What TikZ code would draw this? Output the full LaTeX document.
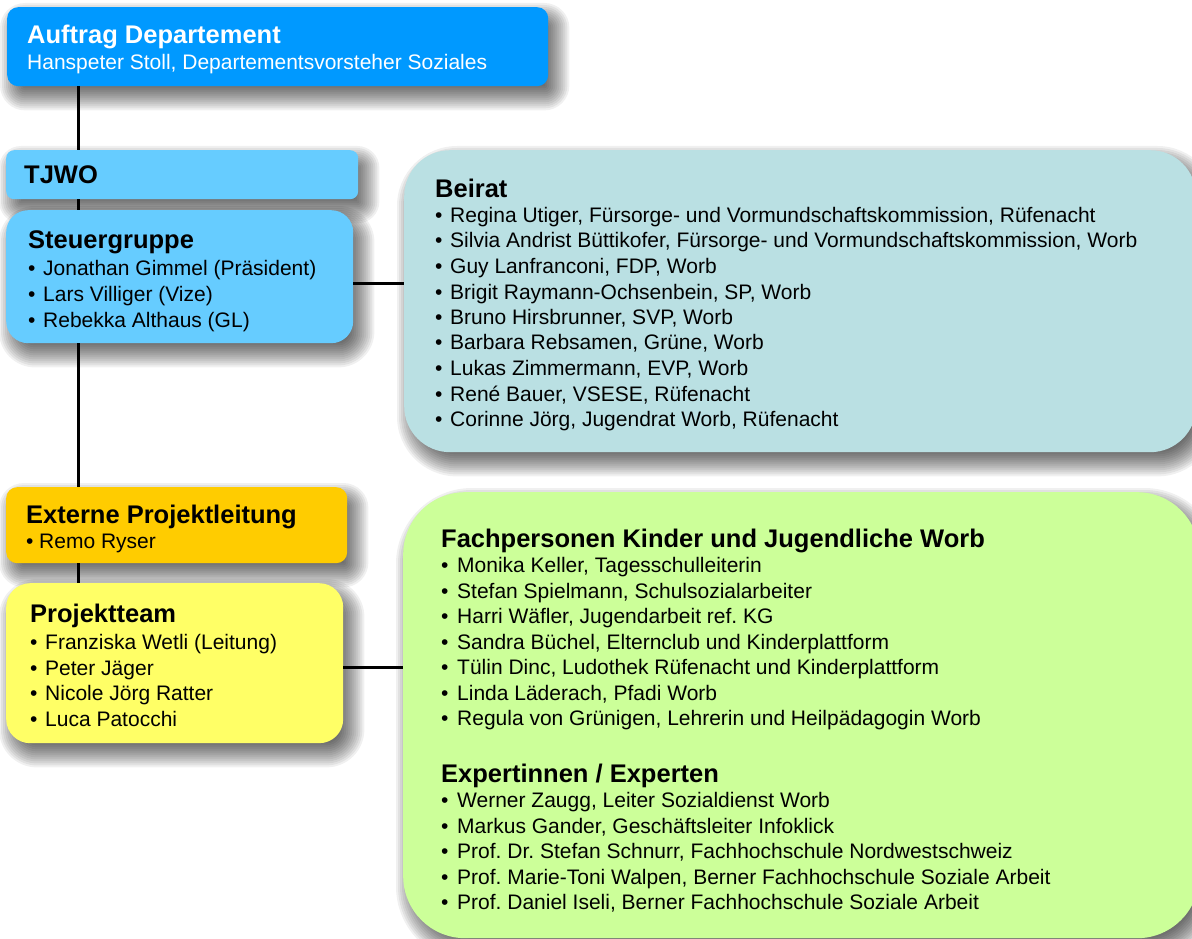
\documentclass[tikz,border=0pt]{standalone}
\usepackage{fontspec}
\setmainfont{Liberation Sans}
\usetikzlibrary{calc,backgrounds}
\definecolor{cAuf}{HTML}{0099FF}
\definecolor{cTj}{HTML}{66CCFF}
\definecolor{cBei}{HTML}{BAE0E3}
\definecolor{cExt}{HTML}{FFCC00}
\definecolor{cPro}{HTML}{FFFF66}
\definecolor{cFach}{HTML}{CCFF99}
\newcommand\mytitle{\fontsize{25.5}{25.5}\selectfont\bfseries}
\newcommand\mybody{\fontsize{21}{25.5}\selectfont\mdseries}
\newcommand\myitem{\makebox[15pt][l]{•}}
\newcommand\mkshadow[2]{%
  \foreach \e in {-12,-10,...,14} {
    \pgfmathsetmacro\rr{max(#2+\e,0.5)}
    \fill[black, opacity=0.058, rounded corners=\rr pt]
      ($(#1.north west)+(7-\e,10-\e)$) rectangle ($(#1.south east)+(7+\e,10+\e)$);
  }}
\frenchspacing
\begin{document}
\begin{tikzpicture}[x=1pt,y=-1pt,
  box/.style={rectangle, inner sep=0pt, draw=none, anchor=north west},
  txt/.style={inner sep=0pt, anchor=base west, text=black},
  conn/.style={line width=3pt, black}]
\useasboundingbox (0,0) rectangle (1192,939);
% boxes
\node[box, fill=cAuf, rounded corners=11pt, minimum width=541pt, minimum height=79pt] (auftrag) at (7,7) {};
\node[box, fill=cTj, rounded corners=8pt, minimum width=352pt, minimum height=49pt] (tjwo) at (6,150) {};
\node[box, fill=cTj, rounded corners=22pt, minimum width=347pt, minimum height=133pt] (steuer) at (6,210) {};
\node[box, fill=cBei, rounded corners=46pt, minimum width=792pt, minimum height=302pt] (beirat) at (404,150) {};
\node[box, fill=cExt, rounded corners=11pt, minimum width=341pt, minimum height=76pt] (extern) at (6,487) {};
\node[box, fill=cPro, rounded corners=24pt, minimum width=337pt, minimum height=160pt] (projekt) at (6,583) {};
\node[box, fill=cFach, rounded corners=62pt, minimum width=796pt, minimum height=446pt] (fach) at (403,492) {};
% shadows
\begin{pgfonlayer}{background}
\fill[white] (0,0) rectangle (1192,939);
\mkshadow{auftrag}{11}
\mkshadow{tjwo}{8}
\mkshadow{steuer}{22}
\mkshadow{beirat}{46}
\mkshadow{extern}{11}
\mkshadow{projekt}{24}
\mkshadow{fach}{62}
\end{pgfonlayer}
% texts
\node[txt, text=white] (tAuf) at (27,44) {\parbox[t]{520pt}{\fontsize{25.5}{27}\selectfont\bfseries Auftrag Departement\par
  \fontsize{21}{26}\selectfont\mdseries Hanspeter Stoll, Departementsvorsteher Soziales\par}};
\node[txt] (tTj) at (24,184) {\mytitle TJWO};
\node[txt] (tSteuer) at (28,248) {\parbox[t]{320pt}{\mytitle Steuergruppe\par\vspace{1pt}
  \fontsize{21}{26}\selectfont\mdseries
  \myitem Jonathan Gimmel (Präsident)\par
  \myitem Lars Villiger (Vize)\par
  \myitem Rebekka Althaus (GL)\par}};
\node[txt] (tBei) at (435,197) {\parbox[t]{750pt}{\raggedright\mytitle Beirat\par\mybody
  \myitem Regina Utiger, Fürsorge- und Vormundschaftskommission, Rüfenacht\par
  \myitem Silvia Andrist Büttikofer, Fürsorge- und Vormundschaftskommission, Worb\par
  \myitem Guy Lanfranconi, FDP, Worb\par
  \myitem Brigit Raymann-Ochsenbein, SP, Worb\par
  \myitem Bruno Hirsbrunner, SVP, Worb\par
  \myitem Barbara Rebsamen, Grüne, Worb\par
  \myitem Lukas Zimmermann, EVP, Worb\par
  \myitem René Bauer, VSESE, Rüfenacht\par
  \myitem Corinne Jörg, Jugendrat Worb, Rüfenacht\par}};
\node[txt] (tExt) at (26,523) {\parbox[t]{320pt}{\mytitle Externe Projektleitung\par\mybody
  \makebox[13pt][l]{•}Remo Ryser\par}};
\node[txt] (tPro) at (30,622) {\parbox[t]{310pt}{\mytitle Projektteam\par\vspace{2pt}\mybody
  \myitem Franziska Wetli (Leitung)\par
  \myitem Peter Jäger\par
  \myitem Nicole Jörg Ratter\par
  \myitem Luca Patocchi\par}};
\node[txt] (tFach) at (441,547) {\parbox[t]{740pt}{\raggedright\mytitle Fachpersonen Kinder und Jugendliche Worb\par\mybody
  \makebox[16pt][l]{•}Monika Keller, Tagesschulleiterin\par
  \makebox[16pt][l]{•}Stefan Spielmann, Schulsozialarbeiter\par
  \makebox[16pt][l]{•}Harri Wäfler, Jugendarbeit ref. KG\par
  \makebox[16pt][l]{•}Sandra Büchel, Elternclub und Kinderplattform\par
  \makebox[16pt][l]{•}Tülin Dinc, Ludothek Rüfenacht und Kinderplattform\par
  \makebox[16pt][l]{•}Linda Läderach, Pfadi Worb\par
  \makebox[16pt][l]{•}Regula von Grünigen, Lehrerin und Heilpädagogin Worb\par}};
\node[txt] (tExp) at (441,782) {\parbox[t]{740pt}{\raggedright\mytitle Expertinnen / Experten\par\mybody
  \makebox[16pt][l]{•}Werner Zaugg, Leiter Sozialdienst Worb\par
  \makebox[16pt][l]{•}Markus Gander, Geschäftsleiter Infoklick\par
  \makebox[16pt][l]{•}Prof. Dr. Stefan Schnurr, Fachhochschule Nordwestschweiz\par
  \makebox[16pt][l]{•}Prof. Marie-Toni Walpen, Berner Fachhochschule Soziale Arbeit\par
  \makebox[16pt][l]{•}Prof. Daniel Iseli, Berner Fachhochschule Soziale Arbeit\par}};
% connectors
\coordinate (lx) at (78,0);
\coordinate (ly1) at (0,283);
\coordinate (ly2) at (0,667);
\draw[conn] (auftrag.south -| lx) -- (tjwo.north -| lx);
\draw[conn] (tjwo.south -| lx) -- (steuer.north -| lx);
\draw[conn] (steuer.south -| lx) -- (extern.north -| lx);
\draw[conn] (extern.south -| lx) -- (projekt.north -| lx);
\draw[conn] (steuer.east |- ly1) -- (beirat.west |- ly1);
\draw[conn] (projekt.east |- ly2) -- (fach.west |- ly2);
\end{tikzpicture}
\end{document}
